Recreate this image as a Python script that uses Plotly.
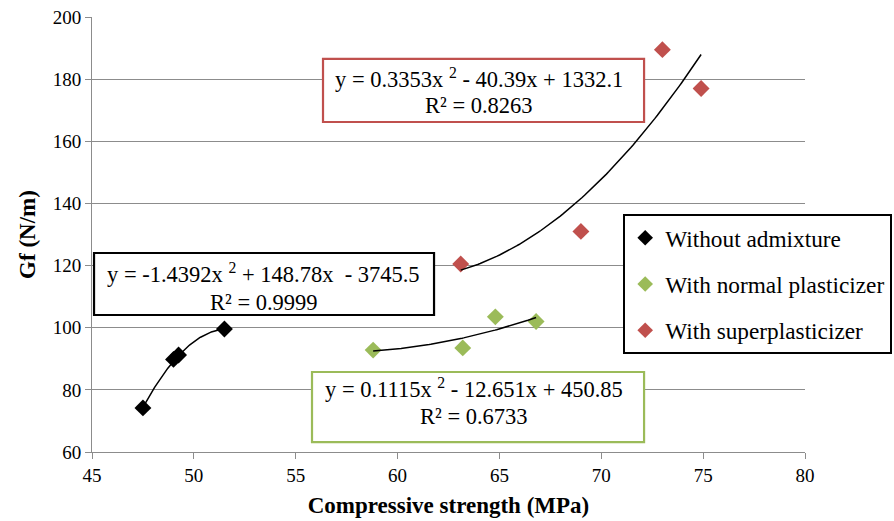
import numpy as np
import plotly.graph_objects as go

# Data
x_none = [47.5, 49.0, 49.25, 51.5]
y_none = [74.2, 89.8, 91.2, 99.6]
x_norm = [58.8, 63.2, 64.8, 66.8]
y_norm = [92.8, 93.5, 103.5, 102.0]
x_super = [63.1, 69.0, 73.0, 74.9]
y_super = [120.5, 131.0, 189.5, 177.0]

# Trendline coefficients as printed on the chart (a, b, c for ax^2 + bx + c)
coef_none = [-1.4392, 148.78, -3745.5]
coef_norm = [0.1115, -12.651, 450.85]
coef_super = [0.3353, -40.39, 1332.1]

names = ["Without admixture", "With normal plasticizer", "With superplasticizer"]
colors = ["#000000", "#9BBB59", "#C0504D"]

eq_texts = [
    "y = -1.4392x <sup>2</sup> + 148.78x  - 3745.5",
    "y = 0.1115x <sup>2</sup> - 12.651x + 450.85",
    "y = 0.3353x <sup>2</sup> - 40.39x + 1332.1",
]
r2_texts = ["R² = 0.9999", "R² = 0.6733", "R² = 0.8263"]

x_ticks = [45, 50, 55, 60, 65, 70, 75, 80]
y_ticks = [60, 80, 100, 120, 140, 160, 180, 200]

FONT = "Liberation Serif"

fig = go.Figure()

series = [(x_none, y_none, coef_none), (x_norm, y_norm, coef_norm), (x_super, y_super, coef_super)]
for i, (xs, ys, cf) in enumerate(series):
    fig.add_trace(go.Scatter(
        x=xs, y=ys, mode="markers", name=names[i], legendgroup=str(i),
        marker=dict(symbol="diamond", size=13, color=colors[i]),
    ))
for i, (xs, ys, cf) in enumerate(series):
    xx = np.linspace(min(xs), max(xs), 100)
    yy = np.polyval(cf, xx)
    fig.add_trace(go.Scatter(
        x=xx, y=yy, mode="lines", showlegend=False, hoverinfo="skip",
        line=dict(color="black", width=1.5),
    ))

grid = "#8C8C8C"
fig.update_xaxes(
    range=[45, 80], tickvals=x_ticks, showgrid=False, showline=True, linecolor=grid,
    linewidth=1, ticks="outside", ticklen=6, tickcolor=grid, zeroline=False,
    tickfont=dict(family=FONT, size=19, color="black"),
    title=dict(text="<b>Compressive strength (MPa)</b>", font=dict(family=FONT, size=23, color="black"), standoff=12),
)
fig.update_yaxes(
    range=[60, 200], tickvals=y_ticks, showgrid=True, gridcolor=grid, gridwidth=1,
    showline=True, linecolor=grid, linewidth=1, ticks="outside", ticklen=6, tickcolor=grid,
    zeroline=False,
    tickfont=dict(family=FONT, size=19, color="black"),
    title=dict(text="<b>Gf (N/m)</b>", font=dict(family=FONT, size=23, color="black"), standoff=10),
)

# Equation boxes (layout positions, in axis units)
boxes = [
    dict(x0=45.10, x1=61.79, y0=104.1, y1=124.05, color="black", tx=53.44, l1=117.6, l2=108.0),
    dict(x0=55.80, x1=72.10, y0=63.2, y1=85.75, color="#9BBB59", tx=63.73, l1=80.6, l2=71.3),
    dict(x0=56.34, x1=72.10, y0=166.2, y1=186.5, color="#C0504D", tx=64.02, l1=180.4, l2=171.4),
]
ann_font = dict(family=FONT, size=22.5, color="black")
for i, b in enumerate(boxes):
    fig.add_shape(type="rect", xref="x", yref="y", x0=b["x0"], x1=b["x1"], y0=b["y0"], y1=b["y1"],
                  line=dict(color=b["color"], width=2.2), fillcolor="white", layer="above")
    fig.add_annotation(x=b["tx"], y=b["l1"], xref="x", yref="y", showarrow=False,
                       text=eq_texts[i], font=ann_font, xanchor="center", yanchor="middle")
    fig.add_annotation(x=b["tx"], y=b["l2"], xref="x", yref="y", showarrow=False,
                       text=r2_texts[i], font=ann_font, xanchor="center", yanchor="middle")

fig.update_layout(
    width=894, height=521,
    margin=dict(l=92, r=89, t=17, b=69, autoexpand=False),
    plot_bgcolor="white", paper_bgcolor="white",
    font=dict(family=FONT, color="black"),
    legend=dict(
        x=0.745, y=0.547, xanchor="left", yanchor="top",
        bgcolor="white", bordercolor="black", borderwidth=2,
        font=dict(family=FONT, size=23.3, color="black"),
        tracegroupgap=13, itemsizing="constant", itemwidth=30,
    ),
)

fig.write_html("out.html")
